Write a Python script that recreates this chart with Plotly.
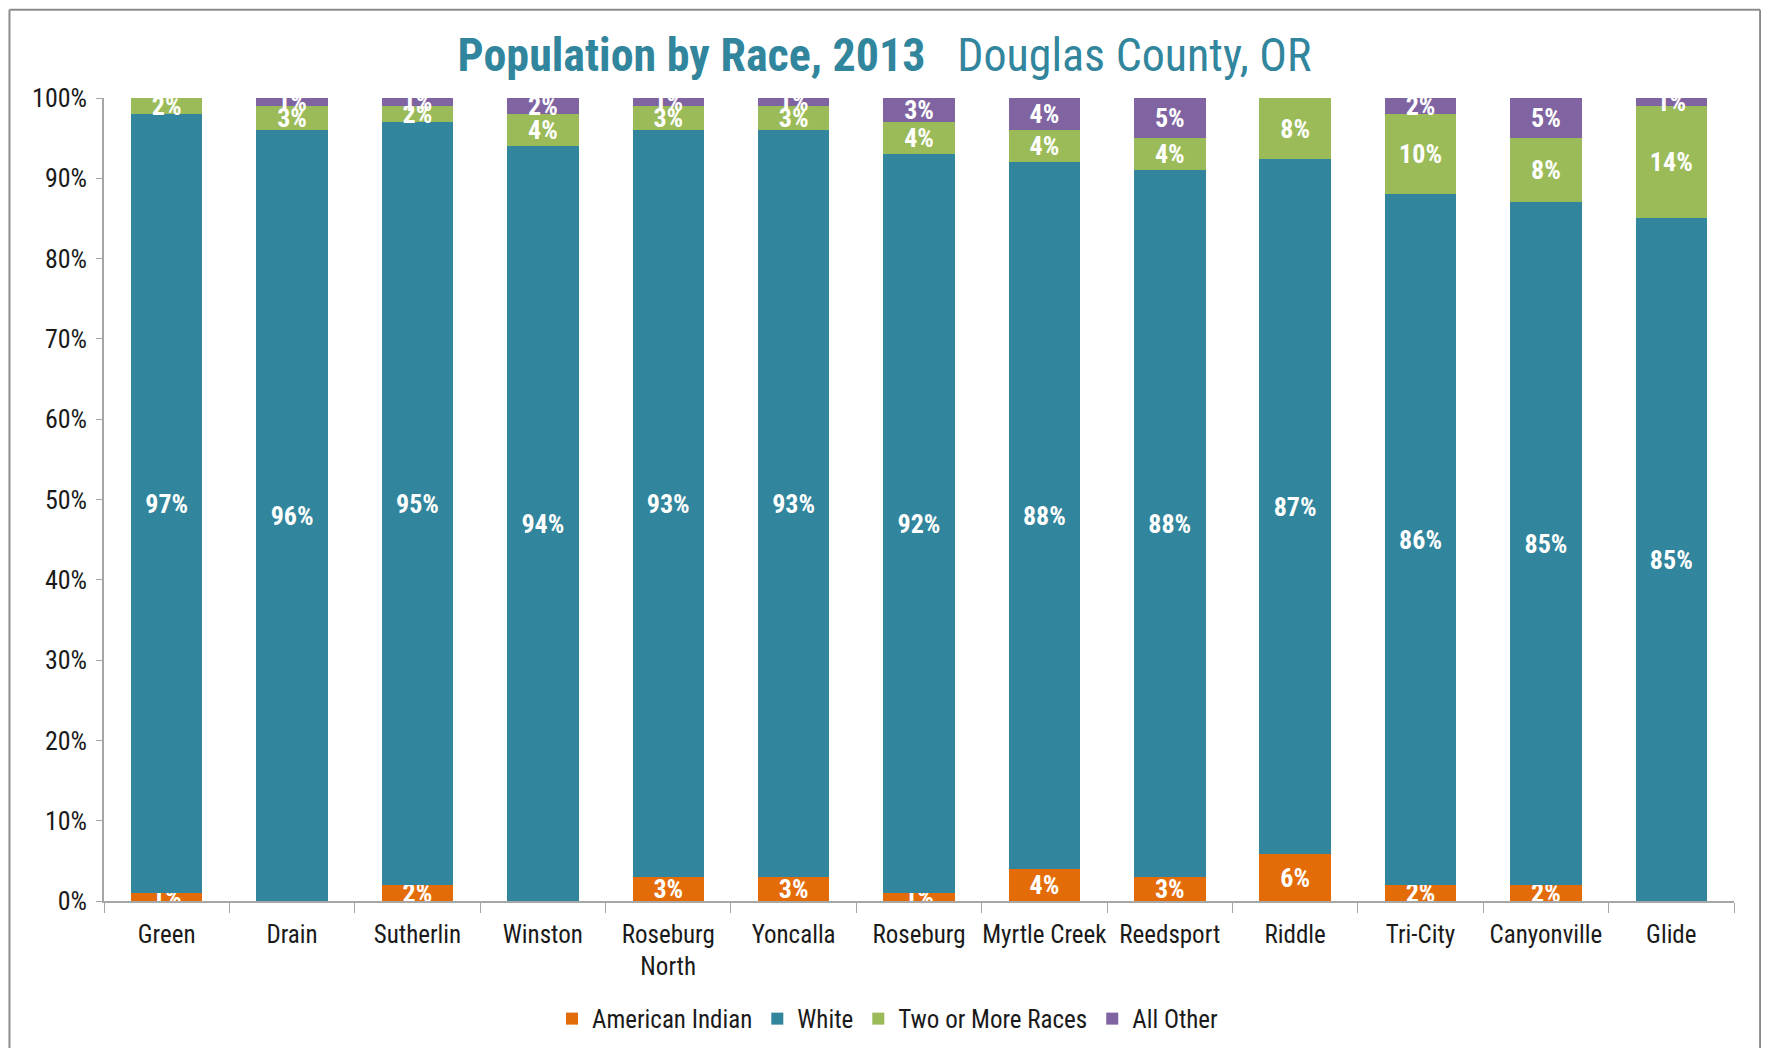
import plotly.graph_objects as go

# Data ########################################################################
places = ['Green', 'Drain', 'Sutherlin', 'Winston', 'Roseburg<br>North', 'Yoncalla',
          'Roseburg', 'Myrtle Creek', 'Reedsport', 'Riddle', 'Tri-City',
          'Canyonville', 'Glide']

american_indian = [1, 0, 2, 0, 3, 3, 1, 4, 3, 5.8, 2, 2, 0]
white = [97, 96, 95, 94, 93, 93, 92, 88, 88, 86.6, 86, 85, 85]
two_or_more = [2, 3, 2, 4, 3, 3, 4, 4, 4, 7.6, 10, 8, 14]
all_other = [0, 1, 1, 2, 1, 1, 3, 4, 5, 0, 2, 5, 1]

series = [
    ('American Indian', american_indian, '#E36C09'),
    ('White', white, '#31859C'),
    ('Two or More Races', two_or_more, '#9BBB59'),
    ('All Other', all_other, '#8064A2'),
]

FONT = 'Liberation Sans Narrow, Arial Narrow, Roboto Condensed, Arial, sans-serif'

# Plot ########################################################################
fig = go.Figure()

for name, vals, color in series:
    labels = [f'{v:.0f}%' if v > 0 else '' for v in vals]
    fig.add_trace(go.Bar(x=places, y=vals, name=name,
                         marker=dict(color=color, line=dict(width=0)),
                         text=labels,
                         textposition='inside',
                         insidetextanchor='middle',
                         textangle=0,
                         textfont=dict(family=FONT, size=26, color='white', weight='bold')))

# page has an 8px body margin, so the figure is a bit smaller than the window
fig.update_layout(
    barmode='stack',
    bargap=0.43,
    width=1753, height=1040,
    margin=dict(l=96, r=27, t=90, b=147, autoexpand=False),
    paper_bgcolor='white',
    plot_bgcolor='white',
    font=dict(family=FONT, size=25, color='#1a1a1a'),
    title=dict(text='<b>Population by Race, 2013</b>   Douglas County, OR',
               x=0.5, xanchor='center', y=0.955, yanchor='middle',
               font=dict(family=FONT, size=46, color='#31859C')),
    legend=dict(orientation='h', x=0.481, xanchor='center',
                yref='container', y=0.028, yanchor='middle',
                font=dict(size=25), itemwidth=30, traceorder='normal'),
    uniformtext=dict(minsize=26, mode='show'),
    showlegend=True,
)

fig.update_yaxes(range=[0, 100], dtick=10, ticksuffix='%',
                 showgrid=False, zeroline=False,
                 showline=True, linecolor='#a6a6a6', linewidth=1.5,
                 ticks='outside', ticklen=6, tickcolor='#a6a6a6',
                 ticklabelstandoff=4, tickfont=dict(size=26))

fig.update_xaxes(showgrid=False, showline=True, linecolor='#a6a6a6', linewidth=1.5,
                 ticks='outside', ticklen=10, tickcolor='#a6a6a6', tickangle=0,
                 tickson='boundaries', ticklabelstandoff=10, tickfont=dict(size=25))

# outer frame (left, top, right - bottom edge is off the page)
frame = dict(color='#8c8c8c', width=2)
for x0, y0, x1, y1 in [(-0.058, -0.4, -0.058, 1.11),
                       (-0.058, 1.11, 1.016, 1.11),
                       (1.016, 1.11, 1.016, -0.4)]:
    fig.add_shape(type='line', xref='paper', yref='paper',
                  x0=x0, y0=y0, x1=x1, y1=y1, line=frame, layer='below')

fig.write_html('out.html')
